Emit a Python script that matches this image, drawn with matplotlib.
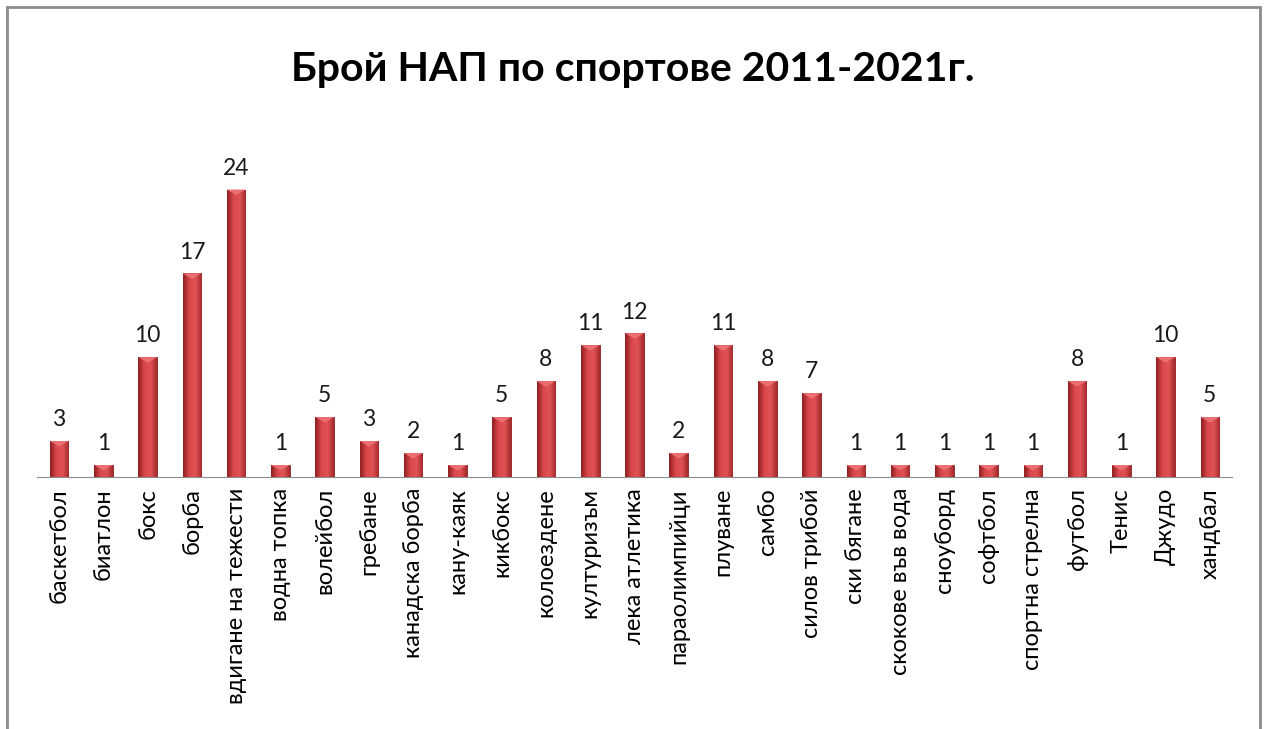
import numpy as np
import matplotlib.pyplot as plt
from matplotlib.patches import Rectangle
from matplotlib.colors import LinearSegmentedColormap

# Дані
sports = ['баскетбол', 'биатлон', 'бокс', 'борба', 'вдигане на тежести',
          'водна топка', 'волейбол', 'гребане', 'канадска борба', 'кану-каяк',
          'кикбокс', 'колоездене', 'културизъм', 'лека атлетика', 'параолимпийци',
          'плуване', 'самбо', 'силов трибой', 'ски бягане', 'скокове във вода',
          'сноуборд', 'софтбол', 'спортна стрелна', 'футбол', 'Тенис', 'Джудо',
          'хандбал']
counts = [3, 1, 10, 17, 24, 1, 5, 3, 2, 1, 5, 8, 11, 12, 2, 11, 8, 7, 1, 1,
          1, 1, 1, 8, 1, 10, 5]
title = 'Брой НАП по спортове 2011-2021г.'

plt.rcParams['font.family'] = ['Lato', 'DejaVu Sans']

fig = plt.figure(figsize=(12.66, 7.29), dpi=100)
fig.patches.append(Rectangle((7 / 1266, -0.05), 1253 / 1266, 1.05 - 7 / 729,
                             transform=fig.transFigure, fill=False,
                             edgecolor='#8c8c8c', linewidth=2))
ax = fig.add_axes([37 / 1266, 1 - 477 / 729, 1195 / 1266, 0.46])

x = np.arange(len(sports))
bars = ax.bar(x, counts, width=0.42, color='#c0393b', edgecolor='#8e1f22',
              linewidth=0.6, zorder=2)

# градієнт на стовпцях
grad = np.linspace(0, 1, 64)
cmap = LinearSegmentedColormap.from_list('r', ['#8e1f22', '#d9474a', '#e05355', '#a52a2d'])
for b in bars:
    bx, by = b.get_x(), b.get_y()
    w, h = b.get_width(), b.get_height()
    im = ax.imshow(grad[None, :], extent=(bx, bx + w, by, by + h), cmap=cmap,
                   aspect='auto', zorder=3)
    im.set_clip_path(b)
    # скіс зверху
    tri = plt.Polygon([(bx, by + h), (bx + w, by + h), (bx + w / 2, by + h - 0.45)],
                      closed=True, color='#ec7073', zorder=4, linewidth=0)
    ax.add_patch(tri)
    ax.text(bx + w / 2, by + h + 0.9, str(int(h)), ha='center', va='bottom',
            fontsize=16.5, color='#1a1a1a')

ax.set_xlim(-0.5, len(sports) - 0.5)
ax.set_ylim(0, 28)
ax.set_xticks(x)
ax.set_xticklabels(sports, rotation=90, fontsize=17, color='#000000')
ax.tick_params(axis='x', length=0, pad=8)
ax.set_yticks([])
for s in ['top', 'right', 'left']:
    ax.spines[s].set_visible(False)
ax.spines['bottom'].set_color('#8c8c8c')

fig.text(0.5, 1 - 70 / 729, title, ha='center', va='center', fontsize=29.5,
         fontweight='bold', color='#000000')

fig.savefig('out.png', dpi=100)
